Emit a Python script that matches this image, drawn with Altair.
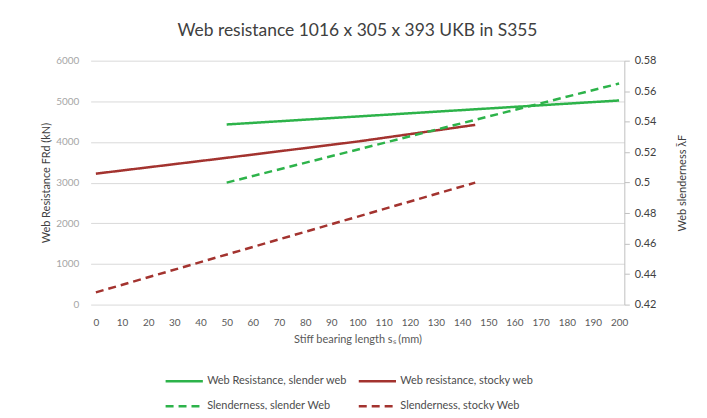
import altair as alt
import pandas as pd

# ---- data ----
x_slender = [50, 200]
res_slender = [4430, 5020]
slen_slender = [0.500, 0.565]

x_stocky = [0, 50, 100, 145]
res_stocky = [3220, 3610, 4010, 4420]
x_stocky_sl = [0, 145]
slen_stocky = [0.428, 0.500]

# legend order (filled column by column): col 1 = slender, col 2 = stocky
series = [
    "Web Resistance, slender web",
    "Slenderness, slender Web",
    "Web resistance, stocky web",
    "Slenderness, stocky Web",
]
colors = ["#2DB34A", "#2DB34A", "#A3332F", "#A3332F"]
dashes = [[1, 0], [8, 5], [1, 0], [8, 5]]

x_ticks = list(range(0, 201, 10))
left_ticks = [0, 1000, 2000, 3000, 4000, 5000, 6000]
right_ticks = [0.42, 0.44, 0.46, 0.48, 0.50, 0.52, 0.54, 0.56, 0.58]

left_df = pd.concat([
    pd.DataFrame({"x": x_slender, "y": res_slender, "series": series[0]}),
    pd.DataFrame({"x": x_stocky, "y": res_stocky, "series": series[2]}),
])
right_df = pd.concat([
    pd.DataFrame({"x": x_slender, "y": slen_slender, "series": series[1]}),
    pd.DataFrame({"x": x_stocky_sl, "y": slen_stocky, "series": series[3]}),
])

FONT = "Lato"
legend = alt.Legend(
    title=None, orient="none", legendX=74, legendY=302, columns=2,
    symbolType="stroke", symbolStrokeWidth=2.5, symbolSize=1400,
    labelFontSize=11, labelColor="#4d4d4d", labelFont=FONT, labelLimit=300,
    labelOffset=3, rowPadding=-15, columnPadding=6,
)
color = alt.Color("series:N", scale=alt.Scale(domain=series, range=colors), legend=legend)
dash = alt.StrokeDash("series:N", scale=alt.Scale(domain=series, range=dashes), legend=legend)

x_enc = alt.X(
    "x:Q",
    scale=alt.Scale(domain=[-2, 202], nice=False, zero=False),
    axis=alt.Axis(values=x_ticks, grid=False, ticks=False, domain=False,
                  labelFontSize=10, labelColor="#595959", labelPadding=13,
                  title="Stiff bearing length sₛ (mm)", titleFontSize=11,
                  titleColor="#595959", titleFontWeight="normal", titlePadding=6),
)

left = alt.Chart(left_df).mark_line(strokeWidth=2.5).encode(
    x=x_enc,
    y=alt.Y("y:Q", scale=alt.Scale(domain=[0, 6000], nice=False),
            axis=alt.Axis(values=left_ticks, grid=True, gridColor="#d9d9d9",
                          ticks=False, domain=False, labelFontSize=10,
                          labelColor="#a6a6a6", labelPadding=12, format="d",
                          title="Web Resistance FRd (kN)", titleFontSize=11,
                          titleColor="#404040", titleFontWeight="normal",
                          titlePadding=4)),
    color=color, strokeDash=dash, detail="series:N",
)

right = alt.Chart(right_df).mark_line(strokeWidth=2.5).encode(
    x=x_enc,
    y=alt.Y("y:Q", scale=alt.Scale(domain=[0.42, 0.58], nice=False, zero=False),
            axis=alt.Axis(orient="right", values=right_ticks, grid=False,
                          domain=True, domainColor="#bfbfbf", ticks=True,
                          tickColor="#bfbfbf", tickSize=5, labelFontSize=11,
                          labelColor="#404040", labelPadding=5,
                          labelExpr="format(datum.value, '.2~f')",
                          title="Web slenderness λ̄F", titleAngle=270,
                          titleFontSize=11, titleColor="#404040",
                          titleFontWeight="normal", titlePadding=32)),
    color=color, strokeDash=dash, detail="series:N",
)

chart = alt.layer(left, right).resolve_scale(y="independent").properties(
    width=536, height=245,
    title=alt.Title("Web resistance 1016 x 305 x 393 UKB in S355", fontSize=17.5,
                    font=FONT, fontWeight="normal", color="#404040", offset=15),
    autosize=alt.AutoSizeParams(type="none"),
    padding={"left": 83, "top": 52, "right": 75, "bottom": 105},
).configure(font=FONT).configure_view(stroke=None)

chart.save("out.html", embed_options={"renderer": "svg", "actions": False})
